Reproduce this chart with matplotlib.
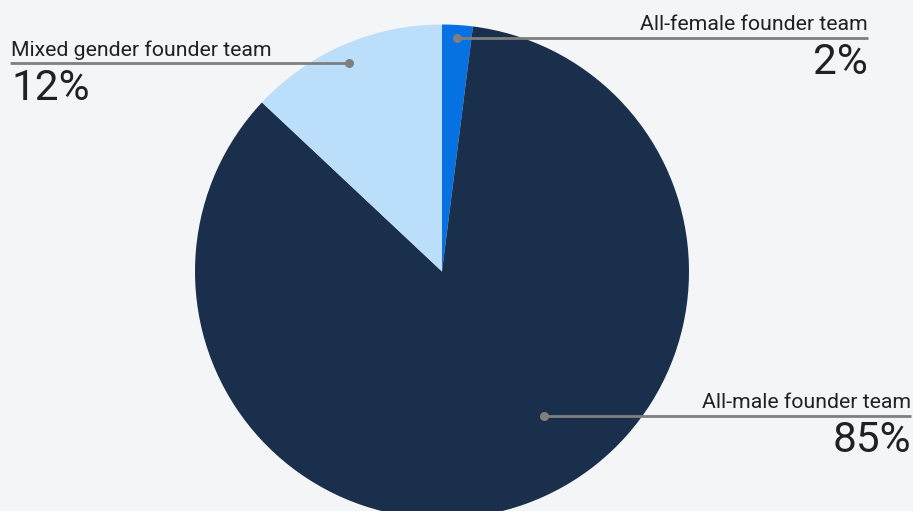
import matplotlib
matplotlib.use("Agg")
import matplotlib.pyplot as plt

# ---- data ----
categories = ["All-female founder team", "All-male founder team", "Mixed gender founder team"]
shares = [2.0, 85.0, 13.0]          # slice sizes
pct_labels = ["2%", "85%", "12%"]   # printed labels
colors = ["#0571e3", "#1a2f4b", "#bbdefb"]

# ---- layout (pixel coords, y from top) ----
W, H = 913, 511
center = (442, 271.5)
radius = 247
layout = {
    "All-female founder team": dict(dot=(456.7, 37.7), line_x=868, tx=868, ha="right", lab_y=30, pct_y=74),
    "All-male founder team": dict(dot=(544, 416), line_x=911, tx=911, ha="right", lab_y=408, pct_y=451.5),
    "Mixed gender founder team": dict(dot=(349, 63.3), line_x=10, tx=11, ha="left", lab_y=56, pct_y=100),
}

plt.rcParams["font.family"] = ["Roboto", "DejaVu Sans"]
bg = "#f4f5f7"
fig = plt.figure(figsize=(W / 100, H / 100), dpi=100, facecolor=bg)
ax = fig.add_axes([0, 0, 1, 1])
ax.set_facecolor(bg)

def Y(y):
    return H - y

ax.pie(shares, colors=colors, startangle=90, counterclock=False,
       center=(center[0], Y(center[1])), radius=radius,
       wedgeprops=dict(linewidth=0), frame=True)

gray = "#7f7f7f"
for cat, pct in zip(categories, pct_labels):
    L = layout[cat]
    dx, dy = L["dot"]
    ax.plot([dx, L["line_x"]], [Y(dy), Y(dy)], color=gray, lw=2, solid_capstyle="butt")
    ax.plot([dx], [Y(dy)], "o", color=gray, ms=6.5, mec="none")
    ax.text(L["tx"], Y(L["lab_y"]), cat, ha=L["ha"], va="baseline",
            fontsize=15.3, color="#212121")
    ax.text(L["tx"], Y(L["pct_y"]), pct, ha=L["ha"], va="baseline",
            fontsize=30.5, color="#212121")

ax.set_xlim(0, W)
ax.set_ylim(0, H)
ax.set_aspect("equal")
ax.axis("off")
fig.savefig("out.png", dpi=100, facecolor=bg)
